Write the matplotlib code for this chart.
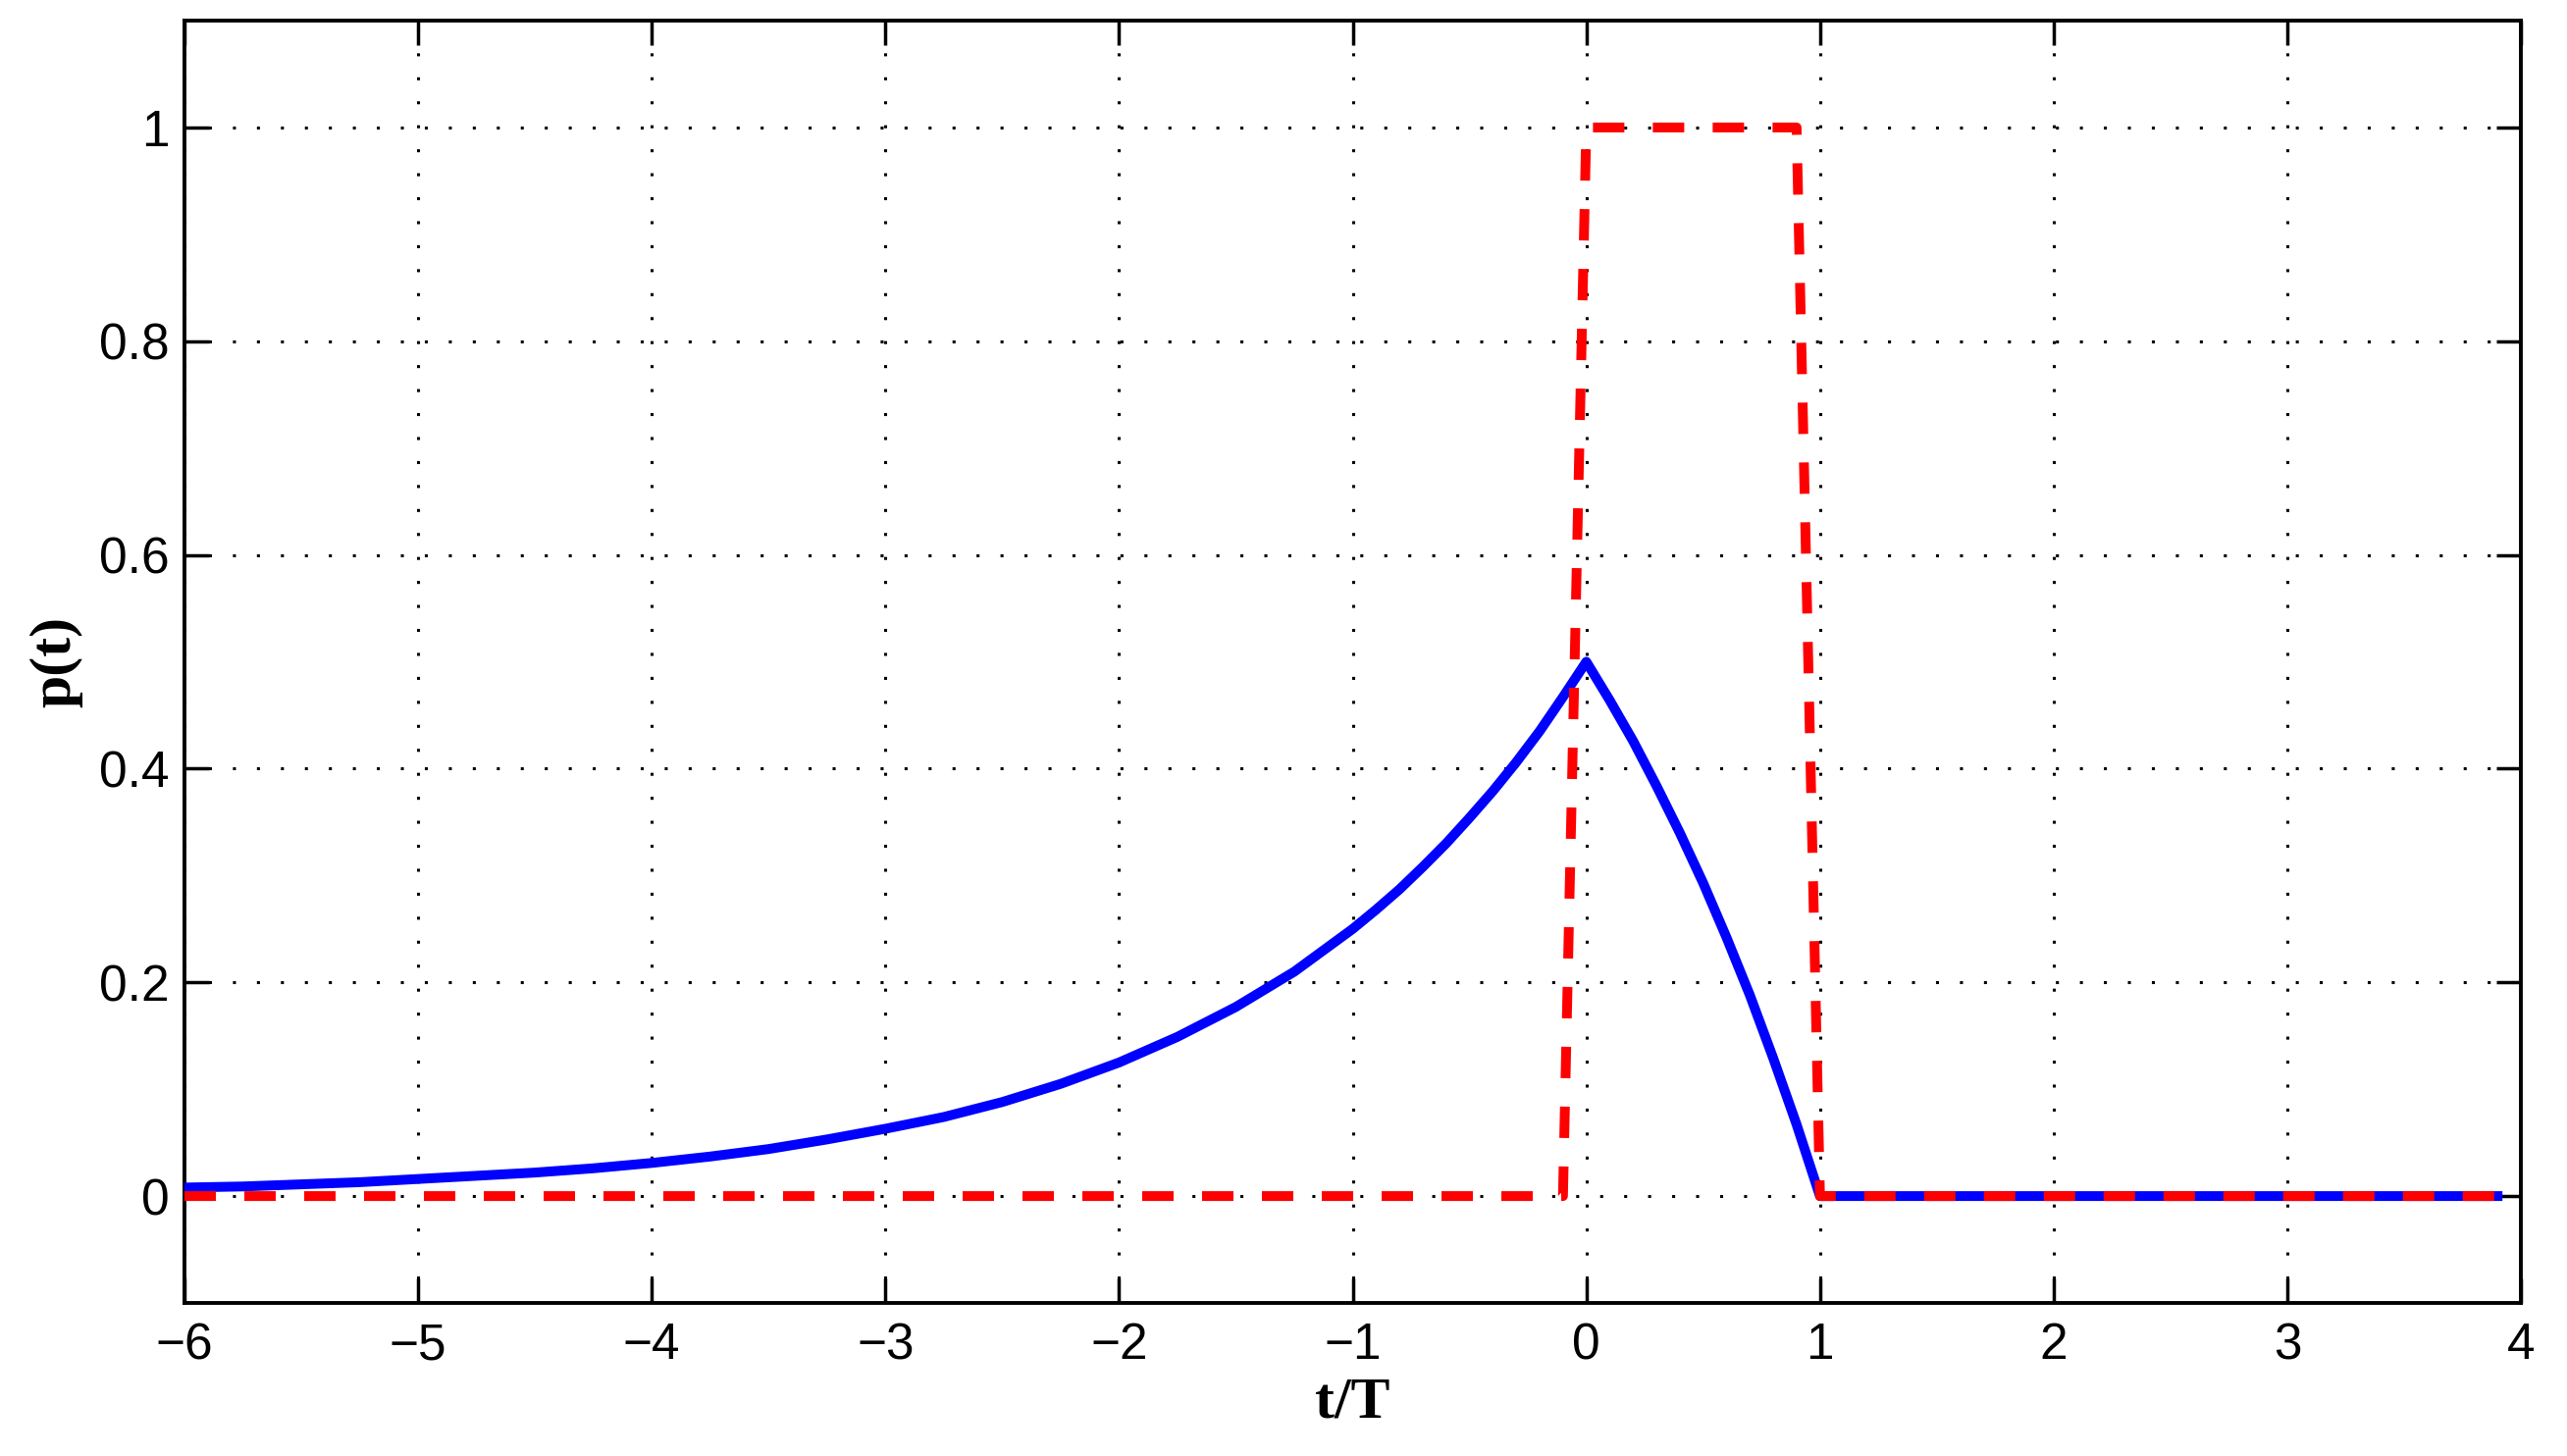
import matplotlib
matplotlib.use("Agg")
import matplotlib.pyplot as plt

# values
t_blue = [-6.0, -5.75, -5.5, -5.25, -5.0, -4.75, -4.5, -4.25, -4.0, -3.75, -3.5,
          -3.25, -3.0, -2.75, -2.5, -2.25, -2.0, -1.75, -1.5, -1.25, -1.0, -0.9,
          -0.8, -0.7, -0.6, -0.5, -0.4, -0.3, -0.2, -0.1, 0.0, 0.1, 0.2, 0.3,
          0.4, 0.5, 0.6, 0.7, 0.8, 0.9, 1.0, 3.9]
p_blue = [0.008, 0.009, 0.011, 0.013, 0.016, 0.019, 0.022, 0.026, 0.031, 0.037,
          0.044, 0.053, 0.063, 0.074, 0.088, 0.105, 0.125, 0.149, 0.177, 0.21,
          0.25, 0.268, 0.287, 0.308, 0.33, 0.354, 0.379, 0.406, 0.435, 0.467,
          0.5, 0.464, 0.426, 0.384, 0.34, 0.293, 0.242, 0.188, 0.129, 0.067,
          0.0, 0.0]

t_red = [-6.0, -0.1, 0.0, 0.9, 1.0, 3.9]
p_red = [0.0, 0.0, 1.0, 1.0, 0.0, 0.0]

x_ticks = [-6, -5, -4, -3, -2, -1, 0, 1, 2, 3, 4]
y_ticks = [0, 0.2, 0.4, 0.6, 0.8, 1]
y_tick_labels = ["0", "0.2", "0.4", "0.6", "0.8", "1"]

fig = plt.figure(figsize=(26.16, 14.84), dpi=100)
ax = fig.add_axes([188 / 2616, 1 - 1328 / 1484, (2569 - 188) / 2616, (1328 - 21) / 1484])

ax.plot(t_blue, p_blue, color="#0000ff", lw=7.2, solid_joinstyle="round", zorder=3)
ax.plot(t_red, p_red, color="#ff0000", lw=7.2, linestyle=(0, (3.2, 2.9)),
        dash_capstyle="butt", zorder=4)

ax.set_xlim(-6, 4)
ax.set_ylim(-0.1, 1.1)
ax.set_xticks(x_ticks)
ax.set_xticklabels([str(v).replace("-", "\u2212") for v in x_ticks])
ax.set_yticks(y_ticks)
ax.set_yticklabels(y_tick_labels)

ax.grid(True, color="black", linestyle=(0, (1, 7)), lw=2.2)
ax.tick_params(direction="in", length=18, width=2.5, top=True, right=True,
               labelsize=37)
ax.tick_params(axis="x", pad=14)
ax.tick_params(axis="y", pad=11)
for lab in ax.get_xticklabels() + ax.get_yticklabels():
    lab.set_family("Liberation Sans")
for s in ax.spines.values():
    s.set_linewidth(2.8)

ax.set_xlabel("t/T", family="Liberation Serif", fontweight="bold", fontsize=43, labelpad=5)
ax.set_ylabel("p(t)", family="Liberation Serif", fontweight="bold", fontsize=43, labelpad=12)

fig.savefig("out.png", dpi=100)
